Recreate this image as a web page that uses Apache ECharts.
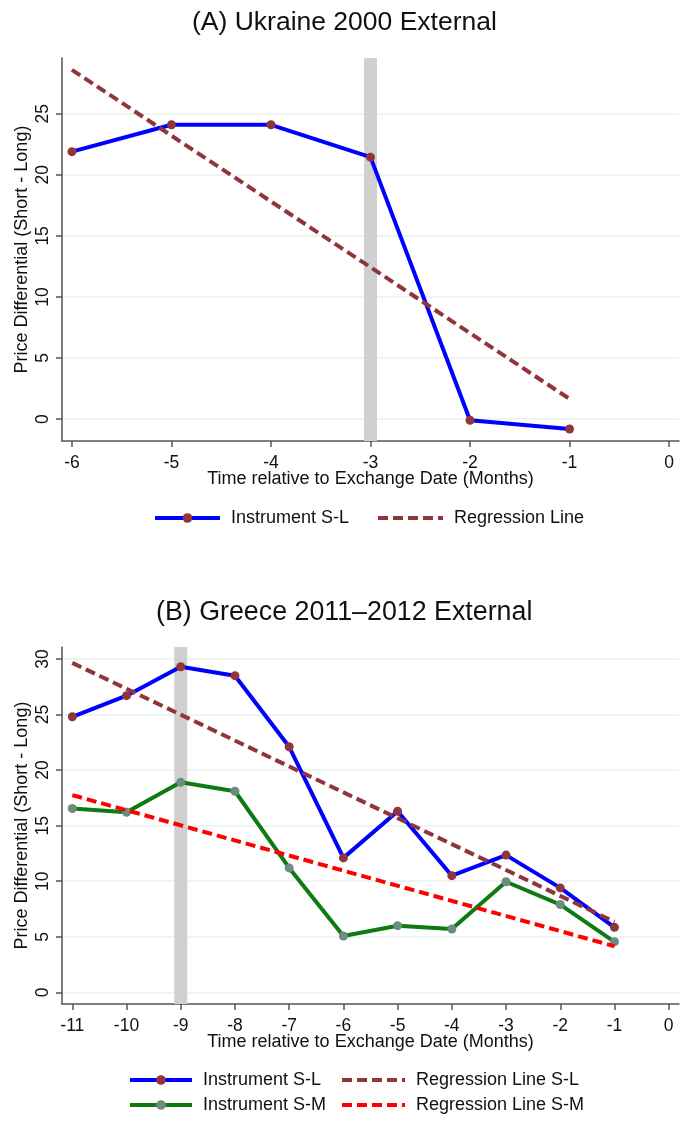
<!DOCTYPE html>
<html><head><meta charset="utf-8">
<script src="https://cdn.jsdelivr.net/npm/echarts@6/dist/echarts.min.js"></script>
<style>html,body{margin:0;padding:0;background:#fff}#c{width:681px;height:1142px}</style>
</head><body><div id="c"></div><script>
// ---- Panel A: Ukraine 2000 ----
const monthsA = [-6, -5, -4, -3, -2, -1];
const ukraineSL = [21.9, 24.1, 24.1, 21.45, -0.1, -0.82];
const ukraineRegX = [-6, -1];
const ukraineRegY = [28.6, 1.65];
const ukraineEvent = -3;
const xTicksA = [-6, -5, -4, -3, -2, -1, 0];
const yTicksA = [0, 5, 10, 15, 20, 25];

// ---- Panel B: Greece 2011-2012 ----
const monthsB = [-11, -10, -9, -8, -7, -6, -5, -4, -3, -2, -1];
const greeceSL = [24.8, 26.7, 29.3, 28.5, 22.1, 12.1, 16.3, 10.5, 12.35, 9.4, 5.85];
const greeceSM = [16.55, 16.2, 18.9, 18.1, 11.2, 5.07, 6.0, 5.7, 9.95, 7.9, 4.55];
const greeceRegX = [-11, -1];
const greeceRegSL = [29.65, 6.35];
const greeceRegSM = [17.75, 4.15];
const greeceEvent = -9;
const xTicksB = [-11, -10, -9, -8, -7, -6, -5, -4, -3, -2, -1, 0];
const yTicksB = [0, 5, 10, 15, 20, 25, 30];

const FONT = "'Liberation Sans', Arial, sans-serif";
const BLUE = '#0000ff', MAROON = '#90353b', GREEN = '#0e7a12', GREENDOT = '#6d8c80', RED = '#ff0000';
const AXIS = '#555555', GRIDC = '#e8eff1', BAND = '#d0d0d0';
const zip = (xs, ys) => xs.map((x, i) => [x, ys[i]]);

function xAx(idx, min, max, ticks, gap) {
  return {
    type: 'value', gridIndex: idx, min: min, max: max,
    name: 'Time relative to Exchange Date (Months)', nameLocation: 'middle', nameGap: gap,
    nameMoveOverlap: false,
    nameTextStyle: { fontFamily: FONT, fontSize: 18, color: '#111' },
    axisLine: { show: true, onZero: false, lineStyle: { color: AXIS, width: 1.5 } },
    axisTick: { show: true, customValues: ticks, length: 6, lineStyle: { color: AXIS, width: 1.5 } },
    axisLabel: { customValues: ticks, fontFamily: FONT, fontSize: 17.5, color: '#111', margin: 13 },
    splitLine: { show: false }
  };
}
function yAx(idx, min, max, ticks) {
  return {
    type: 'value', gridIndex: idx, min: min, max: max,
    name: 'Price Differential (Short - Long)', nameLocation: 'middle', nameGap: 30.5, nameRotate: 90,
    nameMoveOverlap: false,
    nameTextStyle: { fontFamily: FONT, fontSize: 18, color: '#111' },
    axisLine: { show: true, onZero: false, lineStyle: { color: AXIS, width: 1.5 } },
    axisTick: { show: true, customValues: ticks, length: 6, lineStyle: { color: AXIS, width: 1.5 } },
    axisLabel: { customValues: ticks, rotate: 90, fontFamily: FONT, fontSize: 17.5, color: '#111', margin: 10 },
    splitLine: { show: true, lineStyle: { color: GRIDC, width: 1.5 } }
  };
}
function instr(name, xi, xs, ys, lc, mc, band) {
  const s = {
    name: name, type: 'line', xAxisIndex: xi, yAxisIndex: xi, data: zip(xs, ys),
    symbol: 'circle', symbolSize: 9, showSymbol: true, z: 3,
    lineStyle: { color: lc, width: 4 }, itemStyle: { color: mc }, emphasis: { disabled: true }
  };
  if (band) s.markArea = band;
  return s;
}
function reg(name, xi, xs, ys, c) {
  return {
    name: name, type: 'line', xAxisIndex: xi, yAxisIndex: xi, data: zip(xs, ys),
    symbol: 'none', z: 4, itemStyle: { color: c },
    lineStyle: { color: c, width: 4, type: [10, 5] }, emphasis: { disabled: true }
  };
}
function bandArea(center, half) {
  return { silent: true, itemStyle: { color: BAND }, data: [[{ xAxis: center - half }, { xAxis: center + half }]] };
}
const legendText = { fontFamily: FONT, fontSize: 18, color: '#111', padding: [0, 0, 0, 6] };
function leg(left, top, w, names) {
  return { left: left, top: top, orient: 'vertical', padding: 0, itemWidth: w, itemHeight: 12, itemGap: 7,
    data: names, textStyle: legendText, selectedMode: false, lineStyle: { width: 4 } };
}
const noDot = (n) => ({ name: n, itemStyle: { opacity: 0, color: 'rgba(0,0,0,0)', borderWidth: 0 } });

const chart = echarts.init(document.getElementById('c'), null, { renderer: 'canvas' });
chart.setOption({
  animation: false,
  backgroundColor: '#fff',
  title: [
    { text: '(A) Ukraine 2000 External', left: 192, top: 9, padding: 0, textStyle: { fontFamily: FONT, fontSize: 26.5, fontWeight: 'normal', color: '#111' } },
    { text: '(B) Greece 2011\u20132012 External', left: 156, top: 599, padding: 0, textStyle: { fontFamily: FONT, fontSize: 26.8, fontWeight: 'normal', color: '#111' } }
  ],
  grid: [
    { left: 62, top: 58, width: 617, height: 383, outerBoundsMode: 'none' },
    { left: 62, top: 647, width: 617, height: 357, outerBoundsMode: 'none' }
  ],
  xAxis: [xAx(0, -6.1, 0.1, xTicksA, 29.5), xAx(1, -11.19, 0.19, xTicksB, 29)],
  yAxis: [yAx(0, -1.8, 29.57, yTicksA), yAx(1, -1.05, 31.08, yTicksB)],
  legend: [
    leg(153, 509, 65, ['Instrument S-L']),
    leg(376, 509, 65, [noDot('Regression Line')]),
    leg(128, 1071, 62, ['Instrument S-L', 'Instrument S-M']),
    leg(340, 1071, 63, [noDot('Regression Line S-L'), noDot('Regression Line S-M')])
  ],
  series: [
    instr('Instrument S-L', 0, monthsA, ukraineSL, BLUE, MAROON, bandArea(ukraineEvent, 0.065)),
    reg('Regression Line', 0, ukraineRegX, ukraineRegY, MAROON),
    instr('Instrument S-L', 1, monthsB, greeceSL, BLUE, MAROON, bandArea(greeceEvent, 0.12)),
    instr('Instrument S-M', 1, monthsB, greeceSM, GREEN, GREENDOT, null),
    reg('Regression Line S-L', 1, greeceRegX, greeceRegSL, MAROON),
    reg('Regression Line S-M', 1, greeceRegX, greeceRegSM, RED)
  ]
});
</script></body></html>
